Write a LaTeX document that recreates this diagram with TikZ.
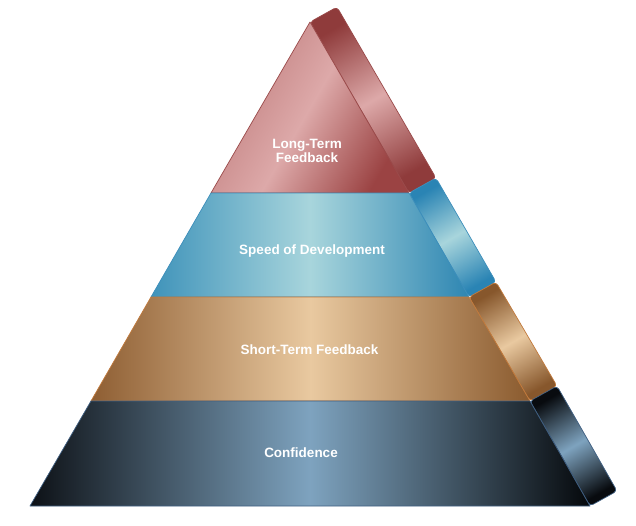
\documentclass[tikz,border=0pt]{standalone}
\usepackage{fontspec}
\setmainfont{Liberation Sans}
\definecolor{redE}{HTML}{9A4A4A}
\definecolor{redA}{HTML}{BF7C7C}
\definecolor{redL}{HTML}{DDA9A9}
\definecolor{redB}{HTML}{9B4343}
\definecolor{redS}{HTML}{8F3B3B}
\definecolor{bluE}{HTML}{3C8EBB}
\definecolor{bluA}{HTML}{3F93BA}
\definecolor{bluL}{HTML}{A8D5DC}
\definecolor{bluB}{HTML}{2E86B2}
\definecolor{bluS}{HTML}{2A84B4}
\definecolor{broE}{HTML}{C27A3C}
\definecolor{broA}{HTML}{8E5E33}
\definecolor{broL}{HTML}{E9C9A0}
\definecolor{broB}{HTML}{8A5A2E}
\definecolor{broS}{HTML}{87572C}
\definecolor{drkE}{HTML}{3F5F82}
\definecolor{drkA}{HTML}{0D1116}
\definecolor{drkL}{HTML}{7EA3BF}
\definecolor{drkB}{HTML}{05080B}
\definecolor{drkS}{HTML}{080B0F}
\tikzset{
  lbl/.style={text=white, font=\bfseries\fontsize{13.5}{14}\selectfont, align=center},
  sideface/.style n args={3}{draw=#1, top color=#2, bottom color=#2, middle color=#3,
    shading angle=30, rounded corners=3.5pt, line width=0.7pt},
  frontface/.style n args={4}{draw=#1, left color=#2, right color=#4, middle color=#3,
    line width=0.7pt, line join=round}
}
\begin{document}
\begin{tikzpicture}[x=1pt,y=-1pt]
\useasboundingbox (0,0) rectangle (636,525);
% corner points
\coordinate (A) at (310,22);
\coordinate (L1) at (211,193); \coordinate (R1) at (409,193);
\coordinate (L2) at (151,297); \coordinate (R2) at (469,297);
\coordinate (L3) at (91,401);  \coordinate (R3) at (530,401);
\coordinate (L4) at (30,506);  \coordinate (R4) at (590,506);
% side faces
\path[sideface={redE}{redS}{redL}]
  (A) -- ([shift={(27,-15)}]A) -- ([shift={(27,-15)}]R1) -- (R1) -- cycle;
\path[sideface={bluE}{bluS}{bluL}]
  (R1) -- ([shift={(27,-15)}]R1) -- ([shift={(27,-15)}]R2) -- (R2) -- cycle;
\path[sideface={broE}{broS}{broL}]
  (R2) -- ([shift={(27,-15)}]R2) -- ([shift={(27,-15)}]R3) -- (R3) -- cycle;
\path[sideface={drkE}{drkS}{drkL}]
  (R3) -- ([shift={(27,-15)}]R3) -- ([shift={(27,-15)}]R4) -- (R4) -- cycle;
% front faces
\path[frontface={redE}{redA}{redL}{redB}, shading angle=60]
  (A) -- (L1) -- (R1) -- cycle;
\path[frontface={bluE}{bluA}{bluL}{bluB}]
  (L1) -- (L2) -- (R2) -- (R1) -- cycle;
\path[frontface={broE}{broA}{broL}{broB}]
  (L2) -- (L3) -- (R3) -- (R2) -- cycle;
\path[frontface={drkE}{drkA}{drkL}{drkB}]
  (L3) -- (L4) -- (R4) -- (R3) -- cycle;
% labels
\node[lbl] (t1) at (307,151) {Long-Term\\Feedback};
\node[lbl] (t2) at (312,251) {Speed of Development};
\node[lbl] (t3) at (309.5,350) {Short-Term Feedback};
\node[lbl] (t4) at (301,453) {Confidence};
\end{tikzpicture}
\end{document}
